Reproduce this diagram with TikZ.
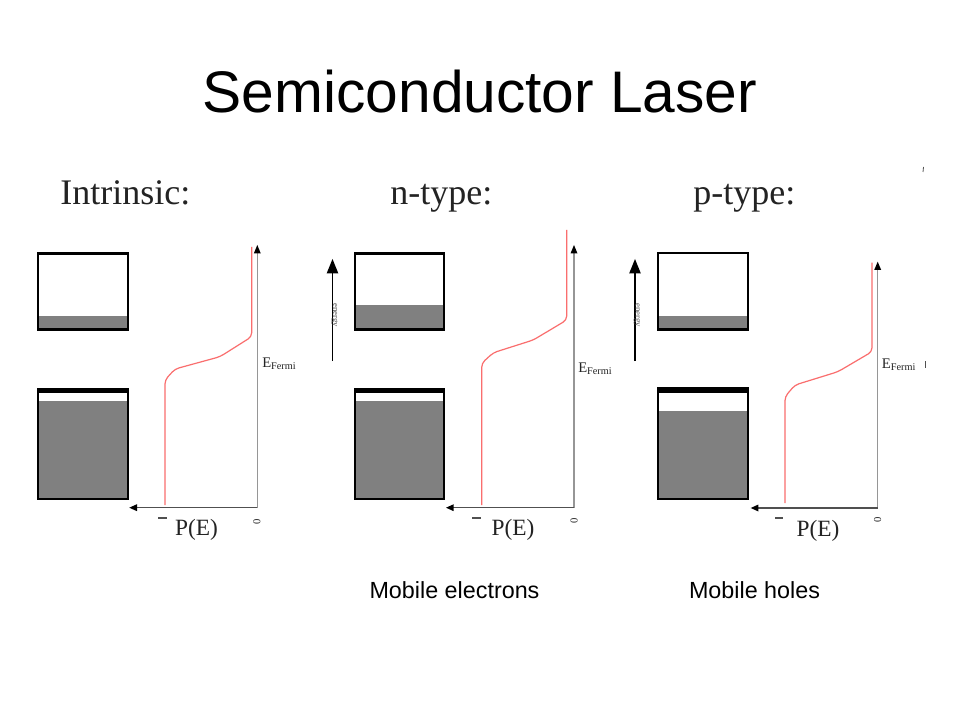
\documentclass[tikz,border=0pt]{standalone}
\usepackage{fontspec}
\setmainfont{Liberation Serif}
\newfontfamily\arialfont{Liberation Sans}
\definecolor{bandgray}{RGB}{128,128,128}
\definecolor{axisgray}{RGB}{150,150,150}
\definecolor{axisdark}{RGB}{80,80,80}
\definecolor{fermired}{RGB}{250,110,110}
\definecolor{labelgray}{RGB}{35,35,35}
\begin{document}
\begin{tikzpicture}[x=0.75pt,y=0.75pt]
\tikzstyle{every node}+=[inner sep=0pt]
\tikzset{
  bandbox/.style={draw=black, line width=2.2pt},
  fermiline/.style={draw=fermired, line width=0.9pt, rounded corners=3pt},
  paneltitle/.style={anchor=base west, text=labelgray, font=\fontsize{27}{31}\selectfont},
  pelabel/.style={anchor=base, text=labelgray, font=\fontsize{17.5}{20}\selectfont},
  eflabel/.style={anchor=base west, text=labelgray, font=\fontsize{11}{13}\selectfont},
  zerolabel/.style={rotate=90, text=labelgray, font=\fontsize{8}{9}\selectfont},
  energylabel/.style={rotate=-90, text=axisdark, font=\fontsize{6.5}{7}\selectfont},
  mobilelabel/.style={anchor=base, font=\arialfont\fontsize{17.5}{20}\selectfont}
}
\useasboundingbox (0,0) rectangle (960,-720);
\fill [white] (0,0) rectangle (960,-720);
% title
\node (title) [anchor=base, font=\arialfont\fontsize{44}{50}\selectfont] at (480,-113) {Semiconductor Laser};
% intrinsic
\node (intrinsic) [paneltitle] at (60,-205) {Intrinsic:};
\fill [bandgray] (38,-316) rectangle (128,-330);
\draw [bandbox] (38,-253.5) rectangle (128,-329.5);
\fill [bandgray] (38,-401) rectangle (128,-499);
\draw [bandbox] (38,-389) rectangle (128,-499);
\fill [black] (37,-388) rectangle (129,-393);
\draw [axisgray, line width=1.1pt] (257.3,-507.7) -- (257.3,-252);
\fill [black] (257.3,-245) -- (253.8,-253.5) -- (260.8,-253.5);
\draw [axisdark, line width=1.1pt] (257.3,-507.7) -- (136,-507.7);
\fill [black] (129.3,-507.7) -- (137,-504.2) -- (137,-511.2);
\draw [fermiline] (251.7,-247) -- (251.7,-336.7) -- (220,-356.7) -- (175,-369) -- (165,-380) -- (165,-505);
\node (efermiA) [eflabel] at (262,-367) {E\textsubscript{Fermi}};
\draw [axisdark, line width=0.9pt] (158,-518) -- (167,-518);
\node (peA) [pelabel] at (196.5,-535) {P(E)};
\node (zeroA) [zerolabel] at (257,-522) {0};
% n-type
\node (ntype) [paneltitle] at (390,-205) {n-type:};
\draw [black, line width=0.8pt] (332.5,-361) -- (332.5,-272);
\fill [black] (332.5,-259) -- (326.7,-273.3) -- (338.3,-273.3);
\node (energyB) [energylabel] at (334.5,-315) {energy};
\fill [bandgray] (355,-305) rectangle (444,-330);
\draw [bandbox] (355,-253.5) rectangle (444,-329.5);
\fill [bandgray] (355,-401) rectangle (444,-499);
\draw [bandbox] (355,-389) rectangle (444,-499);
\fill [black] (354,-388) rectangle (445,-393);
\draw [axisgray, line width=1.1pt] (574,-507.7) -- (574,-252);
\fill [black] (574,-245) -- (570.5,-253.5) -- (577.5,-253.5);
\draw [axisdark, line width=1.1pt] (574,-507.7) -- (453,-507.7);
\fill [black] (446,-507.7) -- (453.7,-504.2) -- (453.7,-511.2);
\draw [fermiline] (566.7,-230) -- (566.7,-320) -- (533.3,-340) -- (493.3,-352.7) -- (481.7,-363.3) -- (481.7,-505);
\node (efermiB) [eflabel] at (578,-372) {E\textsubscript{Fermi}};
\draw [axisdark, line width=0.9pt] (472,-518) -- (481,-518);
\node (peB) [pelabel] at (513,-535) {P(E)};
\node (zeroB) [zerolabel] at (574,-521) {0};
\node (mobileB) [mobilelabel] at (454.5,-598) {Mobile electrons};
% p-type
\node (ptype) [paneltitle] at (693,-205) {p-type:};
\draw [black, line width=0.8pt] (635,-361) -- (635,-272);
\fill [black] (635,-259) -- (629.2,-273.3) -- (640.8,-273.3);
\node (energyC) [energylabel] at (637,-315) {energy};
\fill [bandgray] (658,-316) rectangle (748,-330);
\draw [bandbox] (658,-253) rectangle (748,-329.5);
\fill [bandgray] (658,-410.7) rectangle (748,-499);
\draw [bandbox] (658,-388.5) rectangle (748,-499);
\fill [black] (657,-387.5) -- (749,-387.5) -- (749,-392.5) -- (657,-392.5) -- cycle;
\draw [axisgray, line width=1.1pt] (877.7,-508) -- (877.7,-268);
\fill [black] (877.7,-261.7) -- (874.2,-270) -- (881.2,-270);
\draw [axisdark, line width=1.1pt] (877.7,-508) -- (758,-508);
\fill [black] (750.7,-508) -- (758.4,-504.5) -- (758.4,-511.5);
\draw [fermiline] (872,-262.7) -- (872,-351.7) -- (838,-371.7) -- (795,-385) -- (785,-396.7) -- (785,-503);
\node (efermiC) [eflabel] at (881.7,-368) {E\textsubscript{Fermi}};
\draw [axisdark, line width=0.6pt] (925,-361) -- (925,-368);
\draw [axisdark, line width=0.6pt] (923.5,-167) -- (923,-172);
\draw [axisdark, line width=0.9pt] (775,-518) -- (783,-518);
\node (peC) [pelabel] at (818,-536) {P(E)};
\node (zeroC) [zerolabel] at (877.5,-520) {0};
\node (mobileC) [mobilelabel] at (754.5,-598) {Mobile holes};
\end{tikzpicture}
\end{document}
